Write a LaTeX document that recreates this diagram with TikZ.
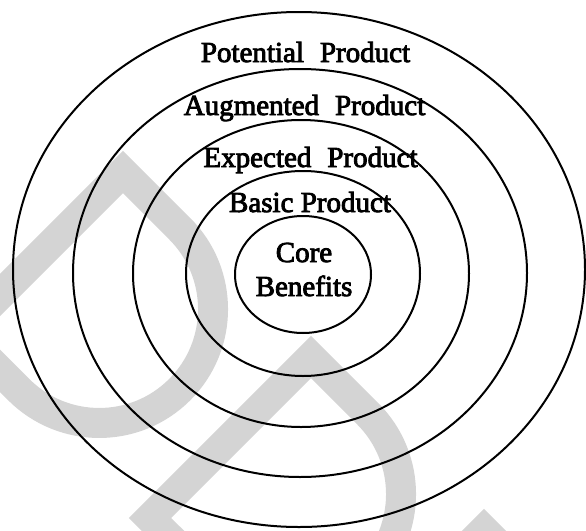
\documentclass[tikz,border=0pt]{standalone}
\usepackage{fontspec}
\setmainfont{Liberation Serif}
\newfontfamily\ringfont{Liberation Serif}[FakeBold=3]
\usepackage{tikz}
\usetikzlibrary{shapes}
\tikzstyle{ring}=[ellipse,draw=black,line width=2pt,inner sep=0mm]
\tikzstyle{layer}=[anchor=base,inner sep=0mm,font=\ringfont\fontsize{29}{34}\selectfont]
\tikzstyle{watermark}=[draw=black!17,line width=30pt,line join=miter]
\newcommand{\wmletter}[1]{\draw[watermark,shift={#1}] (-161,161) -- (0,0) -- (56.7,56.7)
  arc[start angle=-45,end angle=135,radius=113.8] -- cycle;}

\begin{document}
\begin{tikzpicture}[x=1pt,y=-1pt]
      \useasboundingbox (0,0) rectangle (586,530);
      % faint letters behind the rings
      \begin{scope}
        \clip (0,0) rectangle (586,530);
        \wmletter{(123,172)}
        \wmletter{(311,357)}
        \wmletter{(484,530)}
      \end{scope}
      \node[ring,minimum width=572pt,minimum height=515pt] at (299,269.5) (potential) {};
      \node[ring,minimum width=454pt,minimum height=408pt] at (300,273) (augmented) {};
      \node[ring,minimum width=336pt,minimum height=307pt] at (301,273.5) (expected) {};
      \node[ring,minimum width=234pt,minimum height=205pt] at (303,273.5) (basic) {};
      \node[ring,minimum width=136pt,minimum height=117pt] at (303,274.5) (core) {};
      \node[layer] at (305.5,62) (potentialtxt) {Potential\hspace{0.3em} Product};
      \node[layer] at (304.5,115) (augmentedtxt) {Augmented\hspace{0.3em} Product};
      \node[layer] at (310.5,167) (expectedtxt) {Expected\hspace{0.3em} Product};
      \node[layer] at (310,212) (basictxt) {Basic Product};
      \node[layer] at (304,262) (coretxt) {Core};
      \node[layer] at (304,296) (benefitstxt) {Benefits};
    \end{tikzpicture}
\end{document}
